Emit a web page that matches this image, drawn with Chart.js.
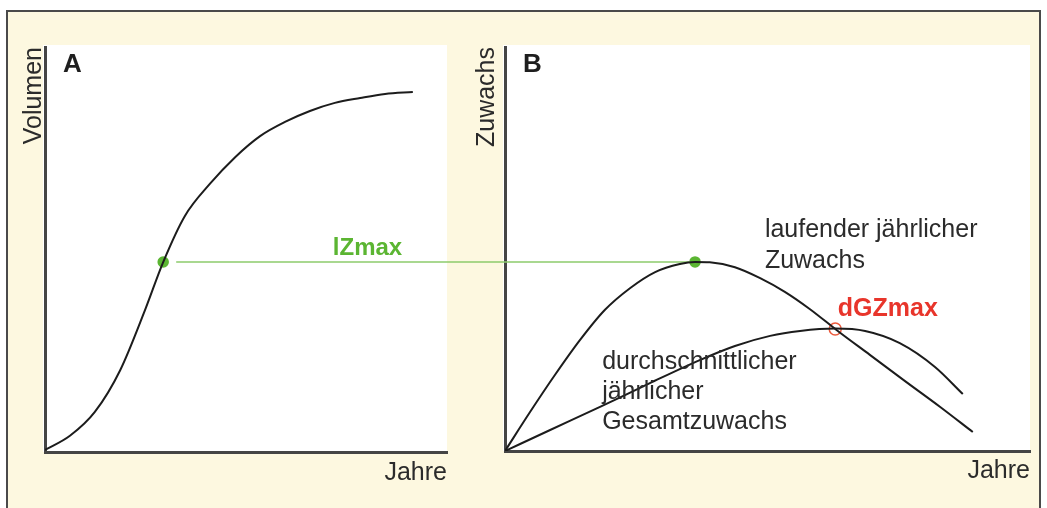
<!DOCTYPE html>
<html lang="de">
<head>
    <meta charset="UTF-8">
    <title>Volumen und Zuwachs</title>
    <script src="https://cdn.jsdelivr.net/npm/chart.js@4.4.0/dist/chart.umd.min.js"></script>
    <style>
        html, body { margin: 0; padding: 0; background: #ffffff; }
        #wrap { position: relative; width: 1047px; height: 508px; overflow: hidden; }
        #frame {
            position: absolute; left: 6px; top: 10px; width: 1035px; height: 530px;
            border: 2px solid #4a4a4a; background: #fdf8e0; box-sizing: border-box;
        }
        canvas { position: absolute; left: 0; top: 0; }
    </style>
</head>
<body>
<div id="wrap">
    <div id="frame"></div>
    <canvas id="chartA" width="1047" height="508"></canvas>
    <canvas id="chartB" width="1047" height="508"></canvas>
</div>
<script>
// A: Volumen über Jahre (S-Kurve)
const jahreA = [0, 6.2, 12.4, 18.7, 24.9, 29.4, 34.8, 41.0, 47.3, 53.5, 59.7, 65.9, 72.1, 78.4, 84.6, 91.5]
const volumen = [0.5, 4.0, 9.9, 20.2, 35.1, 46.9, 58.3, 66.2, 72.8, 78.0, 81.5, 84.2, 86.2, 87.4, 88.4, 88.9]

// B: laufender jährlicher Zuwachs (lZ)
const jahreLZ = [0, 4.8, 9.5, 14.3, 19.0, 23.8, 28.6, 33.3, 36.2, 39.0, 43.8, 48.6, 53.3, 58.1, 63.2, 69.5, 76.2, 82.9, 89.1]
const lZ = [0, 9.7, 18.8, 27.5, 34.9, 40.3, 44.3, 46.3, 46.8, 46.7, 45.5, 42.8, 39.4, 35.1, 29.9, 23.8, 17.3, 10.9, 4.7]

// B: durchschnittlicher jährlicher Gesamtzuwachs (dGZ)
const jahreDGZ = [0, 8.6, 18.1, 27.6, 37.1, 43.8, 50.5, 56.2, 62.9, 68.6, 75.2, 81.9, 87.2]
const dGZ = [0, 5.2, 10.9, 16.8, 22.5, 26.0, 28.5, 29.7, 30.3, 29.7, 26.7, 20.8, 14.1]

// markierte Punkte
const lZmaxA = [{x: 29.4, y: 46.9}]
const lZmaxB = [{x: 36.2, y: 46.8}]
const dGZmaxB = [{x: 62.9, y: 30.2}]

const FONT = '"Liberation Sans", Arial, sans-serif'
const INK = '#2b2b2b'
const GREEN = '#5bb532'
const RED = '#e8352b'

Chart.defaults.font.family = FONT
Chart.defaults.color = INK

const toPoints = (xs, ys) => xs.map((x, i) => ({x: x, y: ys[i]}))

// weisse Zeichenflaeche
const whiteArea = {
    id: 'whiteArea',
    beforeDraw: (chart) => {
        const {ctx, chartArea: a} = chart
        ctx.save()
        ctx.fillStyle = '#ffffff'
        ctx.fillRect(a.left - 2, a.top - 2, a.right - a.left + 2, a.bottom - a.top + 2)
        ctx.restore()
    }
}

// Beschriftungen im Diagramm, Position in Datenwerten
const notes = {
    id: 'notes',
    afterDatasetsDraw: (chart, args, opts) => {
        const {ctx, scales} = chart
        ctx.save()
        ctx.textBaseline = 'middle'
        ctx.textAlign = 'left'
        ;(opts.items || []).forEach(n => {
            ctx.font = (n.bold ? 'bold ' : '') + n.size + 'px ' + FONT
            ctx.fillStyle = n.color || INK
            const px = scales.x.getPixelForValue(n.x)
            const py = scales.y.getPixelForValue(n.y)
            n.lines.forEach((t, i) => ctx.fillText(t, px, py + i * (n.lh || 30)))
        })
        // Panel-Buchstabe
        if (opts.panel) {
            ctx.font = 'bold 26px ' + FONT
            ctx.fillStyle = '#1e1e1e'
            ctx.fillText(opts.panel, chart.chartArea.left + 18, chart.chartArea.top + 18)
        }
        ctx.restore()
    }
}

const axisOpts = (pos, title, width, height, titlePad) => ({
    type: 'linear',
    position: pos,
    min: 0,
    max: 100,
    grid: {display: false},
    ticks: {display: false},
    border: {display: true, color: '#454545', width: 3},
    title: {
        display: true,
        text: title,
        align: 'end',
        color: INK,
        font: {size: 25, family: FONT},
        padding: titlePad
    },
    afterFit: (scale) => {
        if (width) scale.width = width
        if (height) scale.height = height
    }
})

const curve = (data) => ({
    data: data,
    borderColor: '#1c1c1c',
    borderWidth: 2,
    pointRadius: 0,
    fill: false,
    cubicInterpolationMode: 'monotone'
})

const marker = (data, fillCol, strokeCol, r) => ({
    data: data,
    showLine: false,
    pointRadius: r,
    pointBackgroundColor: fillCol,
    pointBorderColor: strokeCol,
    pointBorderWidth: 1.5
})

const baseOptions = (padding, xAxis, yAxis, items, panel) => ({
    responsive: false,
    animation: false,
    events: [],
    layout: {padding: padding},
    scales: {x: xAxis, y: yAxis},
    plugins: {
        legend: {display: false},
        tooltip: {enabled: false},
        notes: {items: items, panel: panel}
    }
})

const chartA = new Chart(document.getElementById('chartA'), {
    type: 'line',
    data: {
        datasets: [
            curve(toPoints(jahreA, volumen)),
            marker(lZmaxA, GREEN, GREEN, 5)
        ]
    },
    options: baseOptions(
        {left: 19, top: 47, right: 600, bottom: 16},
        axisOpts('bottom', 'Jahre', 0, 40, {top: 0, bottom: 4}),
        axisOpts('left', 'Volumen', 26, 0, {top: 0, bottom: 0}),
        [{lines: ['lZmax'], x: 71.6, y: 50.4, size: 24, bold: true, color: GREEN}],
        'A'
    ),
    plugins: [whiteArea, notes]
})

// gruene Verbindungslinie lZmax von A nach B
const lZmaxLine = {
    id: 'lZmaxLine',
    beforeDatasetsDraw: (chart) => {
        const pA = chartA.getDatasetMeta(1).data[0]
        const pB = chart.getDatasetMeta(2).data[0]
        const ctx = chart.ctx
        ctx.save()
        ctx.strokeStyle = '#8dcb6b'
        ctx.lineWidth = 1.5
        ctx.beginPath()
        ctx.moveTo(pA.x + 13, pA.y)
        ctx.lineTo(pB.x - 6, pA.y)
        ctx.stroke()
        ctx.restore()
    }
}

new Chart(document.getElementById('chartB'), {
    type: 'line',
    data: {
        datasets: [
            curve(toPoints(jahreLZ, lZ)),
            curve(toPoints(jahreDGZ, dGZ)),
            marker(lZmaxB, GREEN, GREEN, 5),
            marker(dGZmaxB, 'rgba(0,0,0,0)', '#ec5a3c', 6)
        ]
    },
    options: baseOptions(
        {left: 472, top: 47, right: 17, bottom: 17},
        axisOpts('bottom', 'Jahre', 0, 40, {top: 0, bottom: 5}),
        axisOpts('left', 'Zuwachs', 33, 0, {top: 0, bottom: 0}),
        [
            {lines: ['laufender jährlicher', 'Zuwachs'], x: 49.5, y: 54.7, size: 25, lh: 31},
            {lines: ['durchschnittlicher', 'jährlicher', 'Gesamtzuwachs'], x: 18.5, y: 22.0, size: 25, lh: 30},
            {lines: ['dGZmax'], x: 63.4, y: 35.1, size: 25, bold: true, color: RED}
        ],
        'B'
    ),
    plugins: [whiteArea, notes, lZmaxLine]
})
</script>
</body>
</html>
